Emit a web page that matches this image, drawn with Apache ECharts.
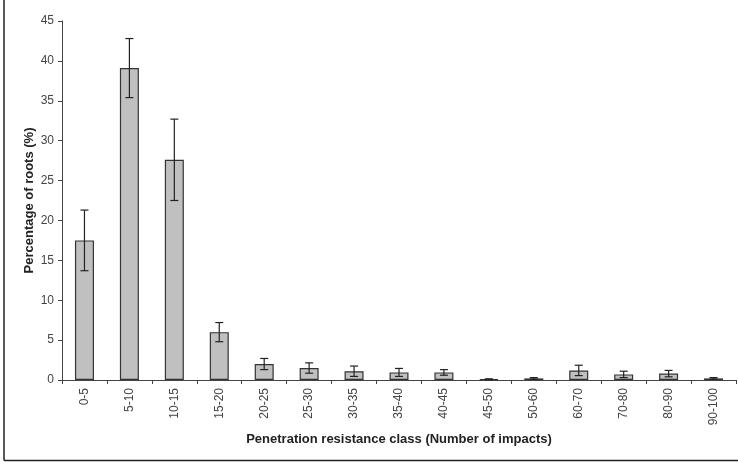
<!DOCTYPE html>
<html>
<head>
<meta charset="utf-8">
<script src="https://cdn.jsdelivr.net/npm/echarts@6/dist/echarts.min.js"></script>
<style>
  html, body { margin: 0; padding: 0; background: #fff; }
  #chart { width: 738px; height: 464px; }
</style>
</head>
<body>
<div id="chart"></div>
<script>
// penetration resistance classes (number of impacts)
var classes = ["0-5", "5-10", "10-15", "15-20", "20-25", "25-30", "30-35", "35-40",
  "40-45", "45-50", "50-60", "60-70", "70-80", "80-90", "90-100"];
// mean percentage of roots per class
var meanPct = [17.5, 39.1, 27.6, 6.0, 2.0, 1.5, 1.1, 0.95, 0.95, 0.1, 0.2, 1.2, 0.7, 0.8, 0.2];
// error (+/-) for each class
var errPct = [3.8, 3.7, 5.1, 1.2, 0.7, 0.65, 0.65, 0.5, 0.35, 0.05, 0.1, 0.65, 0.4, 0.4, 0.1];
var yTicks = [0, 5, 10, 15, 20, 25, 30, 35, 40, 45];

var errData = classes.map(function (c, i) {
  return [i, meanPct[i] - errPct[i], meanPct[i] + errPct[i]];
});

var chart = echarts.init(document.getElementById("chart"));
var option = {
  animation: false,
  textStyle: { fontFamily: "Liberation Sans, Arial, sans-serif" },
  grid: { left: 62, top: 21, right: 2, bottom: 84 },
  xAxis: {
    type: "category",
    data: classes,
    name: "Penetration resistance class (Number of impacts)",
    nameLocation: "middle",
    nameGap: 51,
    nameTextStyle: { fontWeight: "bold", fontSize: 13, color: "#222" },
    axisLine: { lineStyle: { color: "#444", width: 1 } },
    axisTick: { show: true, length: 4, lineStyle: { color: "#444" } },
    axisLabel: { rotate: 90, margin: 8, fontSize: 12, color: "#444" }
  },
  yAxis: {
    type: "value",
    min: yTicks[0],
    max: yTicks[yTicks.length - 1],
    interval: 5,
    name: "Percentage of roots (%)",
    nameLocation: "middle",
    nameGap: 26,
    nameMoveOverlap: false,
    nameTextStyle: { fontWeight: "bold", fontSize: 13, color: "#222" },
    splitLine: { show: false },
    axisLine: { show: true, lineStyle: { color: "#444", width: 1 } },
    axisTick: { show: true, length: 4, lineStyle: { color: "#444" } },
    axisLabel: { fontSize: 12, color: "#444", margin: 8 }
  },
  series: [
    {
      type: "bar",
      data: meanPct,
      barWidth: 19,
      itemStyle: { color: "#c0c0c0", borderColor: "#333", borderWidth: 1.2 }
    },
    {
      type: "custom",
      data: errData,
      z: 10,
      renderItem: function (params, api) {
        var lo = api.coord([api.value(0), api.value(1)]);
        var hi = api.coord([api.value(0), api.value(2)]);
        var half = 4;
        var style = { stroke: "#222", lineWidth: 1.2 };
        return {
          type: "group",
          children: [
            { type: "line", shape: { x1: hi[0], y1: hi[1], x2: lo[0], y2: lo[1] }, style: style },
            { type: "line", shape: { x1: hi[0] - half, y1: hi[1], x2: hi[0] + half, y2: hi[1] }, style: style },
            { type: "line", shape: { x1: lo[0] - half, y1: lo[1], x2: lo[0] + half, y2: lo[1] }, style: style }
          ]
        };
      }
    }
  ],
  graphic: [
    { type: "line", shape: { x1: 4, y1: 0, x2: 4, y2: 460.5 }, style: { stroke: "#222", lineWidth: 1.5 } },
    { type: "line", shape: { x1: 4, y1: 460.5, x2: 738, y2: 460.5 }, style: { stroke: "#222", lineWidth: 1.5 } }
  ]
};
chart.setOption(option);
</script>
</body>
</html>
